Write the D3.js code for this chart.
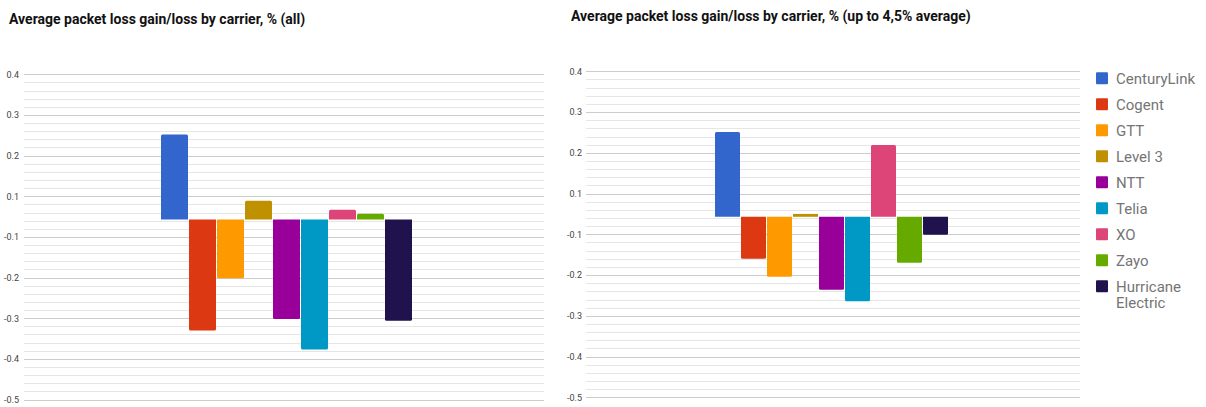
<!DOCTYPE html>
<html>
<head>
<meta charset="utf-8">
<script src="https://cdn.jsdelivr.net/npm/d3@7"></script>
<style>
  html, body { margin: 0; padding: 0; background: #fff; }
  svg { display: block; font-family: Roboto, "Noto Sans", Arial, sans-serif; }
</style>
</head>
<body>
<svg id="chart" width="1206" height="407"></svg>
<script>
// ---- data ----
const carriers = ["CenturyLink", "Cogent", "GTT", "Level 3", "NTT", "Telia", "XO", "Zayo", "Hurricane Electric"];
const carrierColors = ["#3366cc", "#dc3912", "#ff9900", "#bf9000", "#990099", "#0099c6", "#dd4477", "#66aa00", "#20124d"];
const valuesAll = [0.209, -0.273, -0.145, 0.046, -0.245, -0.320, 0.024, 0.014, -0.249];
const valuesCapped = [0.208, -0.103, -0.147, 0.007, -0.179, -0.207, 0.176, -0.113, -0.044];
const tickValues = [0.357, 0.257, 0.157, 0.057, -0.043, -0.143, -0.243, -0.343, -0.443];
const tickLabels = ["0.4", "0.3", "0.2", "0.1", "-0.1", "-0.2", "-0.3", "-0.4", "-0.5"];
const titleAll = "Average packet loss gain/loss by carrier, % (all)";
const titleCapped = "Average packet loss gain/loss by carrier, % (up to 4,5% average)";

const svg = d3.select("#chart");

function drawPanel(cfg) {
  const g = svg.append("g");
  const y = d3.scaleLinear()
    .domain([tickValues[tickValues.length - 1], tickValues[0]])
    .range([cfg.bottom, cfg.top]);

  // minor gridlines (4 between each pair of major ticks)
  const minor = [];
  for (let i = 0; i < tickValues.length - 1; i++) {
    const a = tickValues[i], b = tickValues[i + 1];
    for (let k = 1; k < 5; k++) minor.push(a + (b - a) * k / 5);
  }
  g.selectAll(".minor").data(minor).enter().append("line")
    .attr("x1", cfg.left).attr("x2", cfg.right)
    .attr("y1", d => Math.round(y(d)) + 0.5).attr("y2", d => Math.round(y(d)) + 0.5)
    .attr("stroke", "#e6e6e6").attr("stroke-width", 1);

  // major gridlines + labels
  const axis = d3.axisLeft(y).tickValues(tickValues)
    .tickFormat((d, i) => tickLabels[i]).tickSize(0).tickPadding(0);
  g.selectAll(".major").data(tickValues).enter().append("line")
    .attr("x1", cfg.left).attr("x2", cfg.right)
    .attr("y1", d => Math.round(y(d)) + 0.5).attr("y2", d => Math.round(y(d)) + 0.5)
    .attr("stroke", "#cccccc").attr("stroke-width", 1);
  const ax = g.append("g").attr("transform", `translate(${cfg.labelX},0)`).call(axis);
  ax.select(".domain").remove();
  ax.selectAll("text").attr("fill", "#444").attr("font-size", "9px")
    .attr("font-family", "Roboto, Arial, sans-serif");

  // bars
  const x = d3.scaleBand().domain(carriers)
    .range([cfg.groupLeft, cfg.groupRight])
    .paddingInner(cfg.gapFrac).paddingOuter(0);
  const y0 = y(0);
  const r = 1.5;
  function barPath(xl, w, v) {
    const yv = y(v);
    const xr = xl + w;
    if (Math.abs(yv - y0) < 2 * r) {
      return `M${xl},${y0}V${yv}H${xr}V${y0}Z`;
    }
    if (v >= 0) {
      return `M${xl},${y0}V${yv + r}Q${xl},${yv} ${xl + r},${yv}H${xr - r}Q${xr},${yv} ${xr},${yv + r}V${y0}Z`;
    }
    return `M${xl},${y0}V${yv - r}Q${xl},${yv} ${xl + r},${yv}H${xr - r}Q${xr},${yv} ${xr},${yv - r}V${y0}Z`;
  }
  g.selectAll(".bar").data(cfg.values).enter().append("path")
    .attr("d", (v, i) => barPath(x(carriers[i]), x.bandwidth(), v))
    .attr("fill", (v, i) => carrierColors[i]);

  // title
  g.append("text").attr("x", cfg.titleX).attr("y", cfg.titleY)
    .attr("font-size", "14px").attr("font-weight", "bold").attr("fill", "#111")
    .text(cfg.title);
}

drawPanel({
  title: titleAll, titleX: 9, titleY: 24,
  values: valuesAll,
  left: 24, right: 544, top: 74.3, bottom: 399.5, labelX: 19,
  groupLeft: 161, groupRight: 412, gapFrac: 1 / 28
});

drawPanel({
  title: titleCapped, titleX: 571, titleY: 20.5,
  values: valuesCapped,
  left: 586, right: 1080, top: 71.3, bottom: 397.3, labelX: 582,
  groupLeft: 715, groupRight: 948, gapFrac: 1 / 26
});

// legend
const legend = svg.append("g").attr("transform", "translate(1096,0)");
const rowY = d3.scaleLinear().domain([0, 1]).range([78.3, 104.3]);
carriers.forEach((c, i) => {
  const cy = rowY(i);
  const row = legend.append("g");
  row.append("rect").attr("x", 0).attr("y", cy - 6).attr("width", 12).attr("height", 12)
    .attr("rx", 1).attr("fill", carrierColors[i]);
  const words = c === "Hurricane Electric" ? ["Hurricane", "Electric"] : [c];
  const t = row.append("text").attr("x", 20).attr("y", cy)
    .attr("font-size", "15px").attr("fill", "#757575");
  words.forEach((w, k) => {
    t.append("tspan").attr("x", 20).attr("dy", k === 0 ? "0.36em" : "16px").text(w);
  });
});
</script>
</body>
</html>
